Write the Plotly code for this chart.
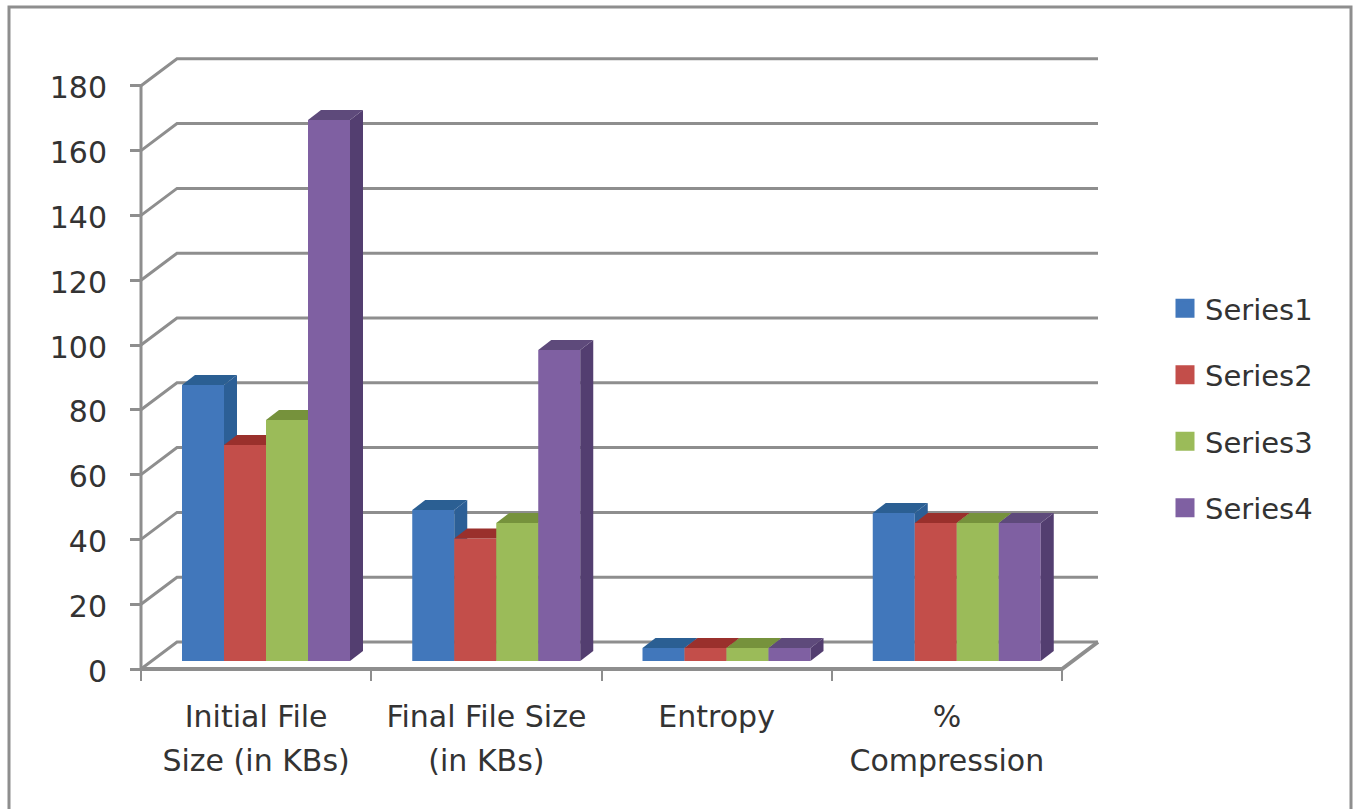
import plotly.graph_objects as go

# ---- data ----
categories = ["Initial File<br>Size (in KBs)", "Final File Size<br>(in KBs)", "Entropy", "%<br>Compression"]
series_names = ["Series1", "Series2", "Series3", "Series4"]
series1 = [85.2, 46.6, 4.0, 45.7]
series2 = [66.7, 37.8, 4.0, 42.6]
series3 = [74.4, 42.6, 4.0, 42.6]
series4 = [167.0, 96.0, 4.0, 42.6]
y_ticks = [0, 20, 40, 60, 80, 100, 120, 140, 160, 180]

values = [series1, series2, series3, series4]
front = ["#4177BB", "#C34E4A", "#9BBB59", "#7F60A2"]
side = ["#2C5F96", "#8E2F2C", "#738F3C", "#533E70"]
top = ["#2B5F93", "#9A302C", "#76923C", "#5E4A7B"]
GRID = "#8E8E8E"
TEXT = "#333333"

# ---- page geometry (pixels) ----
W, H = 1359, 809
AX_L, R, T, AX_B = 141, 1100, 54, 669   # y axis x, floor y, outer limits of the box
PAD = 6                                 # room so that the axis lines are not clipped
L, B = AX_L - PAD, AX_B + PAD
PX_X = 230.25     # pixels per category
PX_Y = 3.24       # pixels per value unit
WALL_X, WALL_Y = 36 / PX_X, 27 / PX_Y   # depth of the box
BAR_W = 42 / PX_X
BAR_DX, BAR_DY = 13 / PX_X, 10 / PX_Y     # depth of a bar
BAR_X0, BAR_Y0 = 41 / PX_X, 8 / PX_Y      # front plane of the bars vs. the box
x_range = [-PAD / PX_X, (R - AX_L) / PX_X]
y_range = [-PAD / PX_Y, (AX_B - T) / PX_Y]
PW, PH = R - L, B - T

fig = go.Figure()

# box: walls, floor, axis lines
def line(xs, ys, width=3):
    fig.add_trace(go.Scatter(x=xs, y=ys, mode="lines", line=dict(color=GRID, width=width),
                             showlegend=False, hoverinfo="skip"))

for v in y_ticks:
    line([0, WALL_X, 4 + WALL_X], [v, v + WALL_Y, v + WALL_Y])
line([0, 0], [0, y_ticks[-1]])
line([0, 4, 4 + WALL_X], [0, 0, WALL_Y], width=4)

# one overlay subplot per series, so that each series paints over the previous
for s, (name, vals) in enumerate(zip(series_names, values)):
    ax = s + 2
    xa, ya = f"x{ax}", f"y{ax}"
    xs = [i + BAR_X0 + s * BAR_W + BAR_W / 2 for i in range(len(categories))]
    fig.add_trace(go.Bar(x=xs, y=vals, base=BAR_Y0, width=BAR_W, name=name, xaxis=xa, yaxis=ya,
                         marker=dict(color=front[s], line=dict(width=0)), showlegend=False))
    for x, v in zip(xs, vals):
        xl, xr = x - BAR_W / 2, x + BAR_W / 2
        yb, yt = BAR_Y0, BAR_Y0 + v
        fig.add_trace(go.Scatter(x=[xr, xr + BAR_DX, xr + BAR_DX, xr, xr],
                                 y=[yb, yb + BAR_DY, yt + BAR_DY, yt, yb],
                                 mode="lines", fill="toself", fillcolor=side[s], line=dict(width=0),
                                 xaxis=xa, yaxis=ya, showlegend=False, hoverinfo="skip"))
        fig.add_trace(go.Scatter(x=[xl, xl + BAR_DX, xr + BAR_DX, xr, xl],
                                 y=[yt, yt + BAR_DY, yt + BAR_DY, yt, yt],
                                 mode="lines", fill="toself", fillcolor=top[s], line=dict(width=0),
                                 xaxis=xa, yaxis=ya, showlegend=False, hoverinfo="skip"))
    # legend entry
    fig.add_trace(go.Scatter(x=[None], y=[None], mode="markers", name=name, legendgroup=name,
                             marker=dict(symbol="square", size=16, color=front[s],
                                         line=dict(width=3, color=front[s]))))

cat_text = ["<br>".join(f"<span style='font-size:30px'>{p}</span>" for p in c.split("<br>")) for c in categories]

layout = dict(
    width=W, height=H, autosize=False,
    margin=dict(l=L, r=W - R, t=T, b=H - B, pad=0),
    paper_bgcolor="white", plot_bgcolor="rgba(0,0,0,0)",
    barmode="overlay",
    font=dict(family="DejaVu Sans", color=TEXT),
    xaxis=dict(range=x_range, tickvals=[i + 0.5 for i in range(4)], ticktext=cat_text,
               ticks="", showgrid=False, zeroline=False, showline=False,
               anchor="free", position=PAD / PH,
               tickfont=dict(size=34, color=TEXT), ticklabelstandoff=23, tickangle=0,
               minor=dict(tickvals=[0, 1, 2, 3, 4], ticks="outside", ticklen=11, tickwidth=2,
                          tickcolor=GRID, showgrid=False)),
    yaxis=dict(range=y_range, tickvals=y_ticks, ticks="outside", ticklen=11, tickwidth=3, tickcolor=GRID,
               showgrid=False, zeroline=False, showline=False,
               anchor="free", position=PAD / PW,
               tickfont=dict(size=30, color=TEXT), ticklabelstandoff=17, ticklabelshift=2),
    legend=dict(x=(1165 - L) / PW, y=1 - (283 - T) / PH, xanchor="left", yanchor="top",
                font=dict(size=29, color=TEXT), itemsizing="trace", tracegroupgap=25.8,
                traceorder="grouped", bgcolor="rgba(0,0,0,0)"),
    shapes=[dict(type="rect", xref="paper", yref="paper",
                 x0=(9 - L) / PW, x1=(1351 - L) / PW,
                 y0=-(850 - B) / PH, y1=1 + (T - 7) / PH,
                 line=dict(color=GRID, width=3), layer="below")],
)
for ax in range(2, 6):
    layout[f"xaxis{ax}"] = dict(range=x_range, overlaying="x", visible=False, anchor=f"y{ax}")
    layout[f"yaxis{ax}"] = dict(range=y_range, overlaying="y", visible=False, anchor=f"x{ax}")
fig.update_layout(**layout)

fig.write_html("out.html", config=dict(displayModeBar=False),
               post_script="document.body.style.margin='0';document.body.style.overflow='hidden';")
